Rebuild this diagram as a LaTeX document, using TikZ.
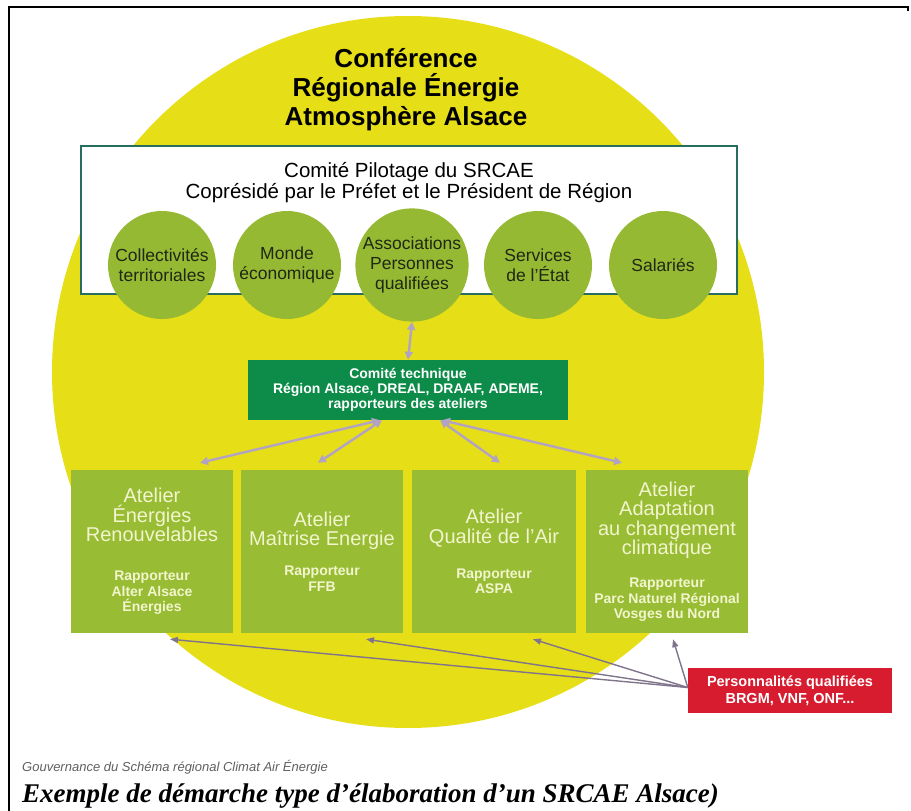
\documentclass[tikz,border=0pt]{standalone}
\usepackage{fontspec}
\setmainfont{Liberation Sans}
\newfontfamily\capserif{Liberation Serif}
\usetikzlibrary{arrows.meta}
\definecolor{bigyellow}{RGB}{230,222,22}
\definecolor{olivec}{RGB}{150,185,52}
\definecolor{atelc}{RGB}{152,188,52}
\definecolor{techc}{RGB}{12,140,72}
\definecolor{redc}{RGB}{215,28,48}
\definecolor{lavc}{RGB}{178,162,196}
\definecolor{grayarr}{RGB}{128,116,140}
\definecolor{boxborder}{RGB}{40,110,95}
\definecolor{darktext}{RGB}{30,40,20}
\definecolor{paletext}{RGB}{242,245,205}
\definecolor{captgray}{RGB}{95,95,95}
\newcommand\rapf{\fontsize{14}{15}\selectfont\bfseries}
\begin{document}
\begin{tikzpicture}[x=1pt,y=-1pt,
  pilbox/.style={rectangle,draw=boxborder,line width=1.2pt,fill=white,minimum width=656pt,minimum height=148pt,inner sep=0pt},
  circ/.style={circle,fill=olivec,minimum size=108pt,inner sep=0pt,align=center,text=darktext,font=\fontsize{17.5}{20}\selectfont},
  techbox/.style={rectangle,fill=techc,minimum width=320pt,minimum height=60pt,inner sep=0pt,align=center,text=white,font=\fontsize{14}{15}\selectfont\bfseries},
  atel/.style={rectangle,fill=atelc,minimum height=163pt,inner sep=0pt,align=center,text=paletext,font=\fontsize{20}{19.5}\selectfont},
  redbox/.style={rectangle,fill=redc,minimum width=204pt,minimum height=45pt,inner sep=0pt,align=center,text=white,font=\fontsize{14.5}{17}\selectfont\bfseries},
  lavarrow/.style={draw=lavc,line width=2.4pt,arrows={Triangle[length=8pt,width=8pt]-Triangle[length=8pt,width=8pt]}},
  grayarrow/.style={draw=grayarr,line width=1.4pt,arrows={-Triangle[length=8pt,width=6pt]}}
]
\useasboundingbox (0,0) rectangle (911,811);
% big yellow disc
\fill[bigyellow] (408,372) circle (356pt);
% frame
\draw[line width=2pt] (9,811) -- (9,7) -- (908,7) -- (908,11);
% title
\node[align=center,font=\fontsize{26}{29}\selectfont\bfseries] (title) at (406,90)
  {Conférence\\Régionale Énergie\\Atmosphère Alsace};
% pilot box
\node[pilbox] (pil) at (409,220) {};
\node[align=center,font=\fontsize{20.5}{21}\selectfont] (piltxt) at (409,183)
  {Comité Pilotage du SRCAE\\Coprésidé par le Préfet et le Président de Région};
% circles
\node[circ] (c1) at (162,265) {Collectivités\\territoriales};
\node[circ] (c2) at (287,265) {Monde\\économique};
\node[circ] (c3) at (412,265) {Associations\\Personnes\\qualifiées};
\node[circ] (c4) at (538,265) {Services\\de l'État};
\node[circ] (c5) at (663,265) {Salariés};
% technical committee
\node[techbox] (tech) at (408,390) {Comité technique\\Région Alsace, DREAL, DRAAF, ADEME,\\rapporteurs des ateliers};
% ateliers
\node[atel,minimum width=162pt] (a1) at (152,551.5)
  {Atelier\\Énergies\\Renouvelables\\[19.5pt]\rapf Rapporteur\\[-4pt]\rapf Alter Alsace\\[-4pt]\rapf Énergies};
\node[atel,minimum width=162pt] (a2) at (322,551.5)
  {Atelier\\Maîtrise Energie\\[10.5pt]\rapf Rapporteur\\[-4pt]\rapf FFB};
\node[atel,minimum width=164pt] (a3) at (494,551.5)
  {Atelier\\Qualité de l'Air\\[15.5pt]\rapf Rapporteur\\[-4pt]\rapf ASPA};
\node[atel,minimum width=162pt] (a4) at (667,551.5)
  {Atelier\\Adaptation\\au changement\\climatique\\[13.5pt]\rapf Rapporteur\\[-4pt]\rapf Parc Naturel Régional\\[-4pt]\rapf Vosges du Nord};
% qualified persons
\node[redbox] (red) at (790,690.5) {Personnalités qualifiées\\BRGM, VNF, ONF...};
% connectors
\draw[lavarrow] (c3.south) -- (tech.north);
\draw[lavarrow] ([xshift=-28pt]tech.south) -- ([xshift=48pt,yshift=7pt]a1.north);
\draw[lavarrow] ([xshift=-26pt]tech.south) -- ([xshift=-4pt,yshift=7pt]a2.north);
\draw[lavarrow] ([xshift=32pt]tech.south) -- ([xshift=6pt,yshift=7pt]a3.north);
\draw[lavarrow] ([xshift=34pt]tech.south) -- ([xshift=-45pt,yshift=7pt]a4.north);
\coordinate (rs) at ([yshift=3pt]red.west);
\draw[grayarrow] (rs) -- ([xshift=18pt,yshift=-6pt]a1.south);
\draw[grayarrow] (rs) -- ([xshift=44pt,yshift=-6pt]a2.south);
\draw[grayarrow] (rs) -- ([xshift=39pt,yshift=-6pt]a3.south);
\draw[grayarrow] (rs) -- ([xshift=6pt,yshift=-6pt]a4.south);
% captions
\node[anchor=base west,inner sep=0pt,text=captgray,font=\itshape\fontsize{13}{15}\selectfont] (cap1) at (22,771)
  {Gouvernance du Schéma régional Climat Air Énergie};
\node[anchor=base west,inner sep=0pt,font=\capserif\bfseries\itshape\fontsize{27}{30}\selectfont] (cap2) at (22,802)
  {Exemple de démarche type d’élaboration d’un SRCAE Alsace)};
\end{tikzpicture}
\end{document}
